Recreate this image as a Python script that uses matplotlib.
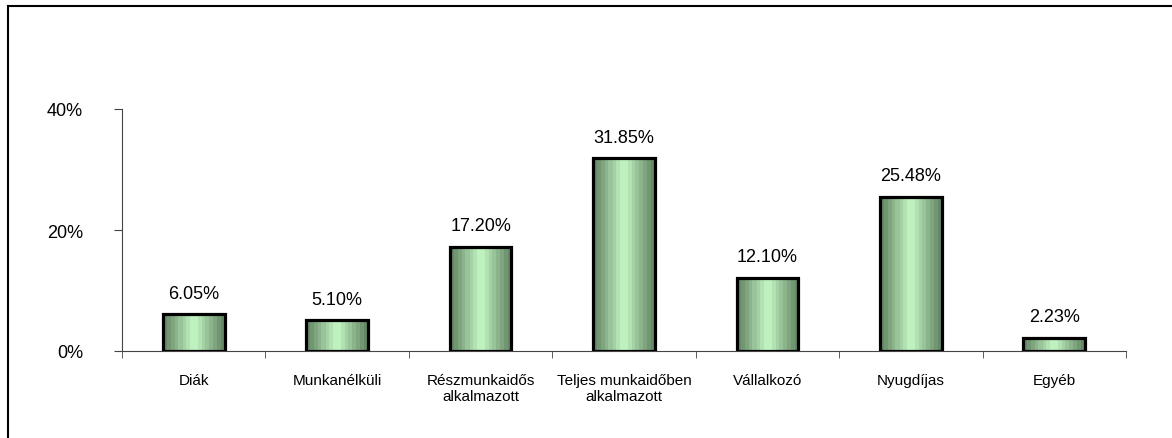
import matplotlib
matplotlib.use("Agg")
import matplotlib.pyplot as plt
import numpy as np
from matplotlib.lines import Line2D
from matplotlib.ticker import FixedLocator, PercentFormatter

categories = ["Diák", "Munkanélküli", "Részmunkaidős\nalkalmazott",
              "Teljes munkaidőben\nalkalmazott", "Vállalkozó", "Nyugdíjas", "Egyéb"]
values = [6.05, 5.10, 17.20, 31.85, 12.10, 25.48, 2.23]
value_labels = ["6.05%", "5.10%", "17.20%", "31.85%", "12.10%", "25.48%", "2.23%"]
y_ticks = [0, 20, 40]

plt.rcParams['font.family'] = ['Liberation Sans', 'DejaVu Sans']

fig = plt.figure(figsize=(11.72, 4.39), dpi=100)
ax = fig.add_axes([122/1172, 87/439, (1126-122)/1172, (352-110)/439])

x = np.arange(len(categories))
width = 0.43
bars = ax.bar(x, values, width=width, facecolor='none', edgecolor='black',
              linewidth=2.3, zorder=3)

# banded horizontal gradient
t = np.linspace(0, 1, 200)
v = 1 - np.abs(2 * t - 1)
v = np.floor(v * 8) / 8
dark = np.array([0x66, 0x88, 0x66]) / 255
light = np.array([0xcc, 0xff, 0xcc]) / 255
grad = dark[None, :] * (1 - v[:, None]) + light[None, :] * v[:, None]
img = grad[None, :, :]
for b in bars:
    x0, y0 = b.get_x(), b.get_y()
    w, h = b.get_width(), b.get_height()
    im = ax.imshow(img, extent=[x0, x0 + w, y0, y0 + h], aspect='auto',
                   zorder=2, interpolation='nearest')
    im.set_clip_path(b)

for xi, val, lab in zip(x, values, value_labels):
    ax.annotate(lab, (xi, val), xytext=(0, 9), textcoords='offset points',
                ha='center', va='bottom', fontsize=13)

ax.set_xlim(-0.5, len(categories) - 0.5)
ax.set_ylim(0, 40)
ax.set_yticks(y_ticks)
ax.yaxis.set_major_formatter(PercentFormatter(decimals=0))
ax.tick_params(axis='y', direction='out', length=6, labelsize=13, pad=22,
               color='#444444')
ax.set_xticks(x)
ax.set_xticklabels(categories, fontsize=11)
ax.tick_params(axis='x', which='major', length=0, pad=16)
ax.xaxis.set_minor_locator(FixedLocator(np.arange(-0.5, len(categories), 1.0)))
ax.tick_params(axis='x', which='minor', direction='out', length=5, color='#444444')
for lbl in ax.get_yticklabels():
    lbl.set_horizontalalignment('right')

ax.spines['top'].set_visible(False)
ax.spines['right'].set_visible(False)
ax.spines['left'].set_color('#444444')
ax.spines['bottom'].set_color('#444444')
ax.patch.set_alpha(0)

# outer chart border (top and left visible)
fig.add_artist(Line2D([7.5/1172, 7.5/1172], [0, 1 - 6.5/439], transform=fig.transFigure,
                      color='black', linewidth=1.5))
fig.add_artist(Line2D([7.5/1172, 1], [1 - 6.5/439, 1 - 6.5/439], transform=fig.transFigure,
                      color='black', linewidth=1.5))

fig.savefig("out.png", dpi=100)
